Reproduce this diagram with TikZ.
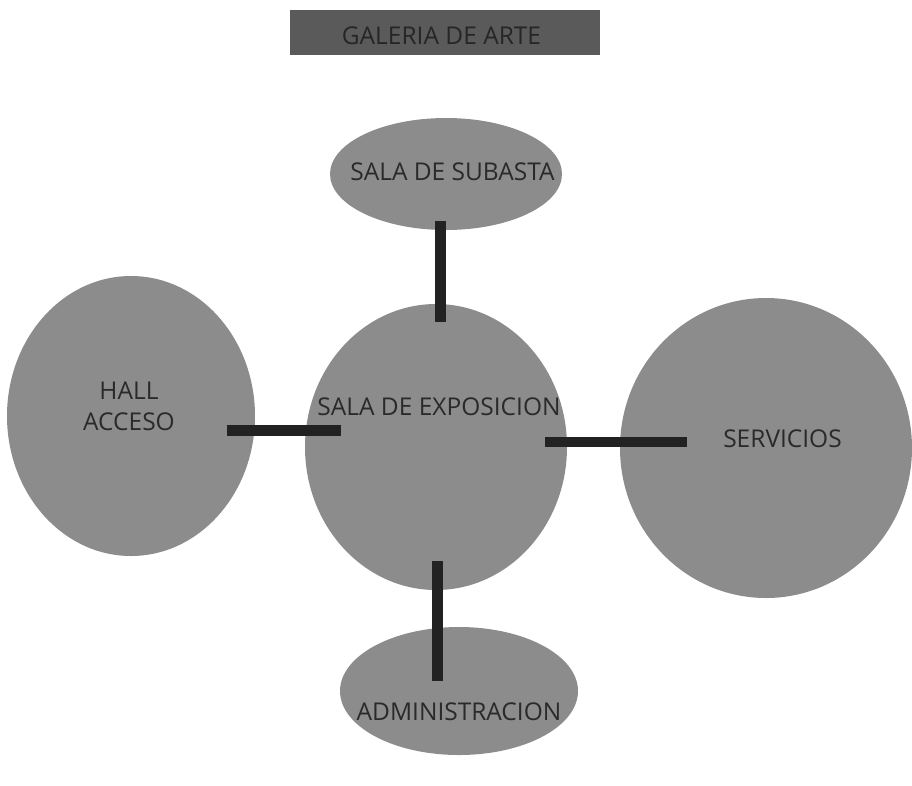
\documentclass[tikz,border=0pt]{standalone}
\usepackage{fontspec}
\setmainfont{Open Sans}
\usetikzlibrary{shapes.geometric}
\definecolor{roomgray}{HTML}{8C8C8C}
\definecolor{titlegray}{HTML}{5A5A5A}
\definecolor{inkgray}{HTML}{2A2A2A}
\definecolor{linkblack}{HTML}{222222}
\begin{document}
\begin{tikzpicture}[x=1pt,y=-1pt,
  room/.style={ellipse,fill=roomgray,draw=none,inner sep=0pt},
  label/.style={text=inkgray,font=\fontsize{24.5}{31}\selectfont,align=center,inner sep=0pt},
  link/.style={draw=linkblack,line width=10.5pt}]
\useasboundingbox (0,0) rectangle (912,785);
% title
\node[fill=titlegray,minimum width=310pt,minimum height=45pt,inner sep=0pt] (title) at (445,32.5) {};
\node[label,text=black!85] (titletext) at (441.5,36) {GALERIA DE ARTE};
% rooms
\node[room,minimum width=232pt,minimum height=112pt] (subasta) at (446,174) {};
\node[room,minimum width=248pt,minimum height=280pt] (hall) at (131,416) {};
\node[room,minimum width=262pt,minimum height=286pt] (expo) at (436,447) {};
\node[room,minimum width=292pt,minimum height=300pt] (serv) at (766,448) {};
\node[room,minimum width=238pt,minimum height=128pt] (admin) at (459,691) {};
% labels
\node[label] (subastatext) at (452.5,172) {SALA DE SUBASTA};
\node[label] (halltext) at (129,406) {HALL\\ACCESO};
\node[label] (expotext) at (439,406.5) {SALA DE EXPOSICION};
\node[label] (servtext) at (782.5,439) {SERVICIOS};
\node[label] (admintext) at (459,711.5) {ADMINISTRACION};
% link end points
\coordinate (c1a) at (440.5,221);
\coordinate (c1b) at (440.5,322);
\coordinate (c2a) at (227,430.5);
\coordinate (c2b) at (341,430.5);
\coordinate (c3a) at (545,442);
\coordinate (c3b) at (687,442);
\coordinate (c4a) at (437.5,561);
\coordinate (c4b) at (437.5,681);
\draw[link] (c1a) -- (c1b);
\draw[link] (c2a) -- (c2b);
\draw[link] (c3a) -- (c3b);
\draw[link] (c4a) -- (c4b);
\end{tikzpicture}
\end{document}
